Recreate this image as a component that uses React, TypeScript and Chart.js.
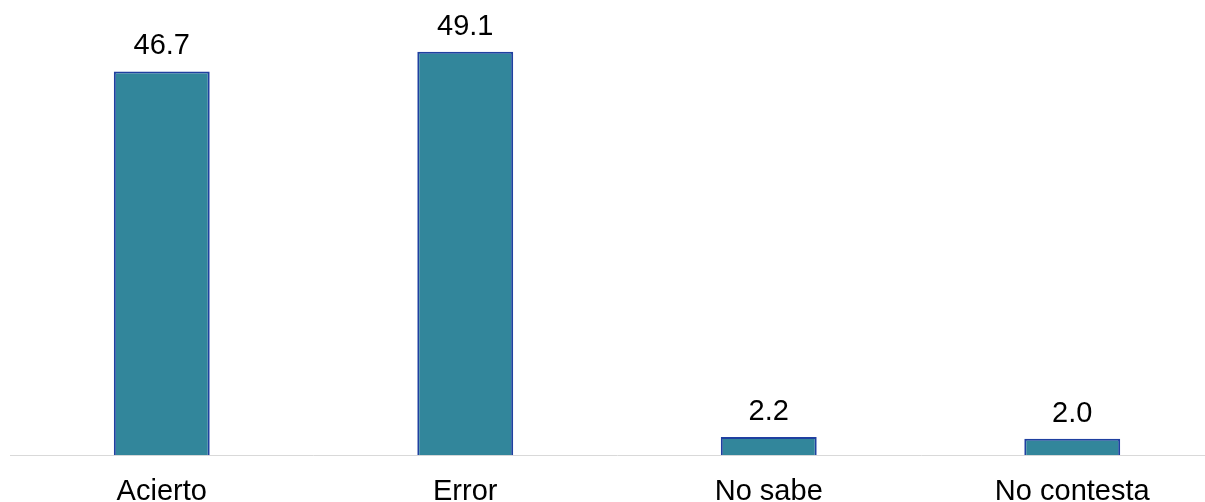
import React, { useEffect, useRef } from "react";
import { Chart, registerables } from "chart.js";

Chart.register(...registerables);

const categories = ["Acierto", "Error", "No sabe", "No contesta"];
const values = [46.7, 49.1, 2.2, 2.0];

const FONT = "'Liberation Sans', Arial, sans-serif";

const valueLabels = {
  id: "valueLabels",
  afterDatasetsDraw(chart: any) {
    const ctx = chart.ctx;
    const meta = chart.getDatasetMeta(0);
    ctx.save();
    ctx.font = `29px ${FONT}`;
    ctx.fillStyle = "#000000";
    ctx.textAlign = "center";
    ctx.textBaseline = "alphabetic";
    meta.data.forEach((el: any, i: number) => {
      ctx.fillText(values[i].toFixed(1), el.x, el.y - 17);
    });
    ctx.restore();
  },
};

export default function App() {
  const ref = useRef<HTMLCanvasElement | null>(null);
  useEffect(() => {
    if (!ref.current) return;
    const chart = new Chart(ref.current, {
      type: "bar",
      data: {
        labels: categories,
        datasets: [
          {
            data: values,
            backgroundColor: "#32869b",
            borderColor: "#1f40a0",
            borderWidth: 2,
            borderSkipped: "bottom",
            categoryPercentage: 1,
            barPercentage: 0.316,
          },
        ],
      },
      options: {
        animation: false,
        responsive: false,
        maintainAspectRatio: false,
        layout: { padding: { left: 10, right: 0, top: 0, bottom: 0 } },
        plugins: {
          legend: { display: false },
          tooltip: { enabled: false },
        },
        scales: {
          x: {
            grid: { display: false, drawTicks: false },
            border: { display: true, color: "#d9d9d9", width: 1 },
            ticks: {
              color: "#000000",
              padding: 19.5,
              font: { family: FONT, size: 29, lineHeight: 1.2 },
            },
          },
          y: {
            display: false,
            min: 0,
            max: 55.4,
          },
        },
      },
      plugins: [valueLabels],
    });
    return () => chart.destroy();
  }, []);
  return (
    <div
      style={{
        position: "fixed",
        left: 0,
        top: 0,
        width: 1205,
        height: 502,
        overflow: "hidden",
        background: "#ffffff",
      }}
    >
      <canvas ref={ref} width={1224} height={529} style={{ display: "block" }} />
    </div>
  );
}
